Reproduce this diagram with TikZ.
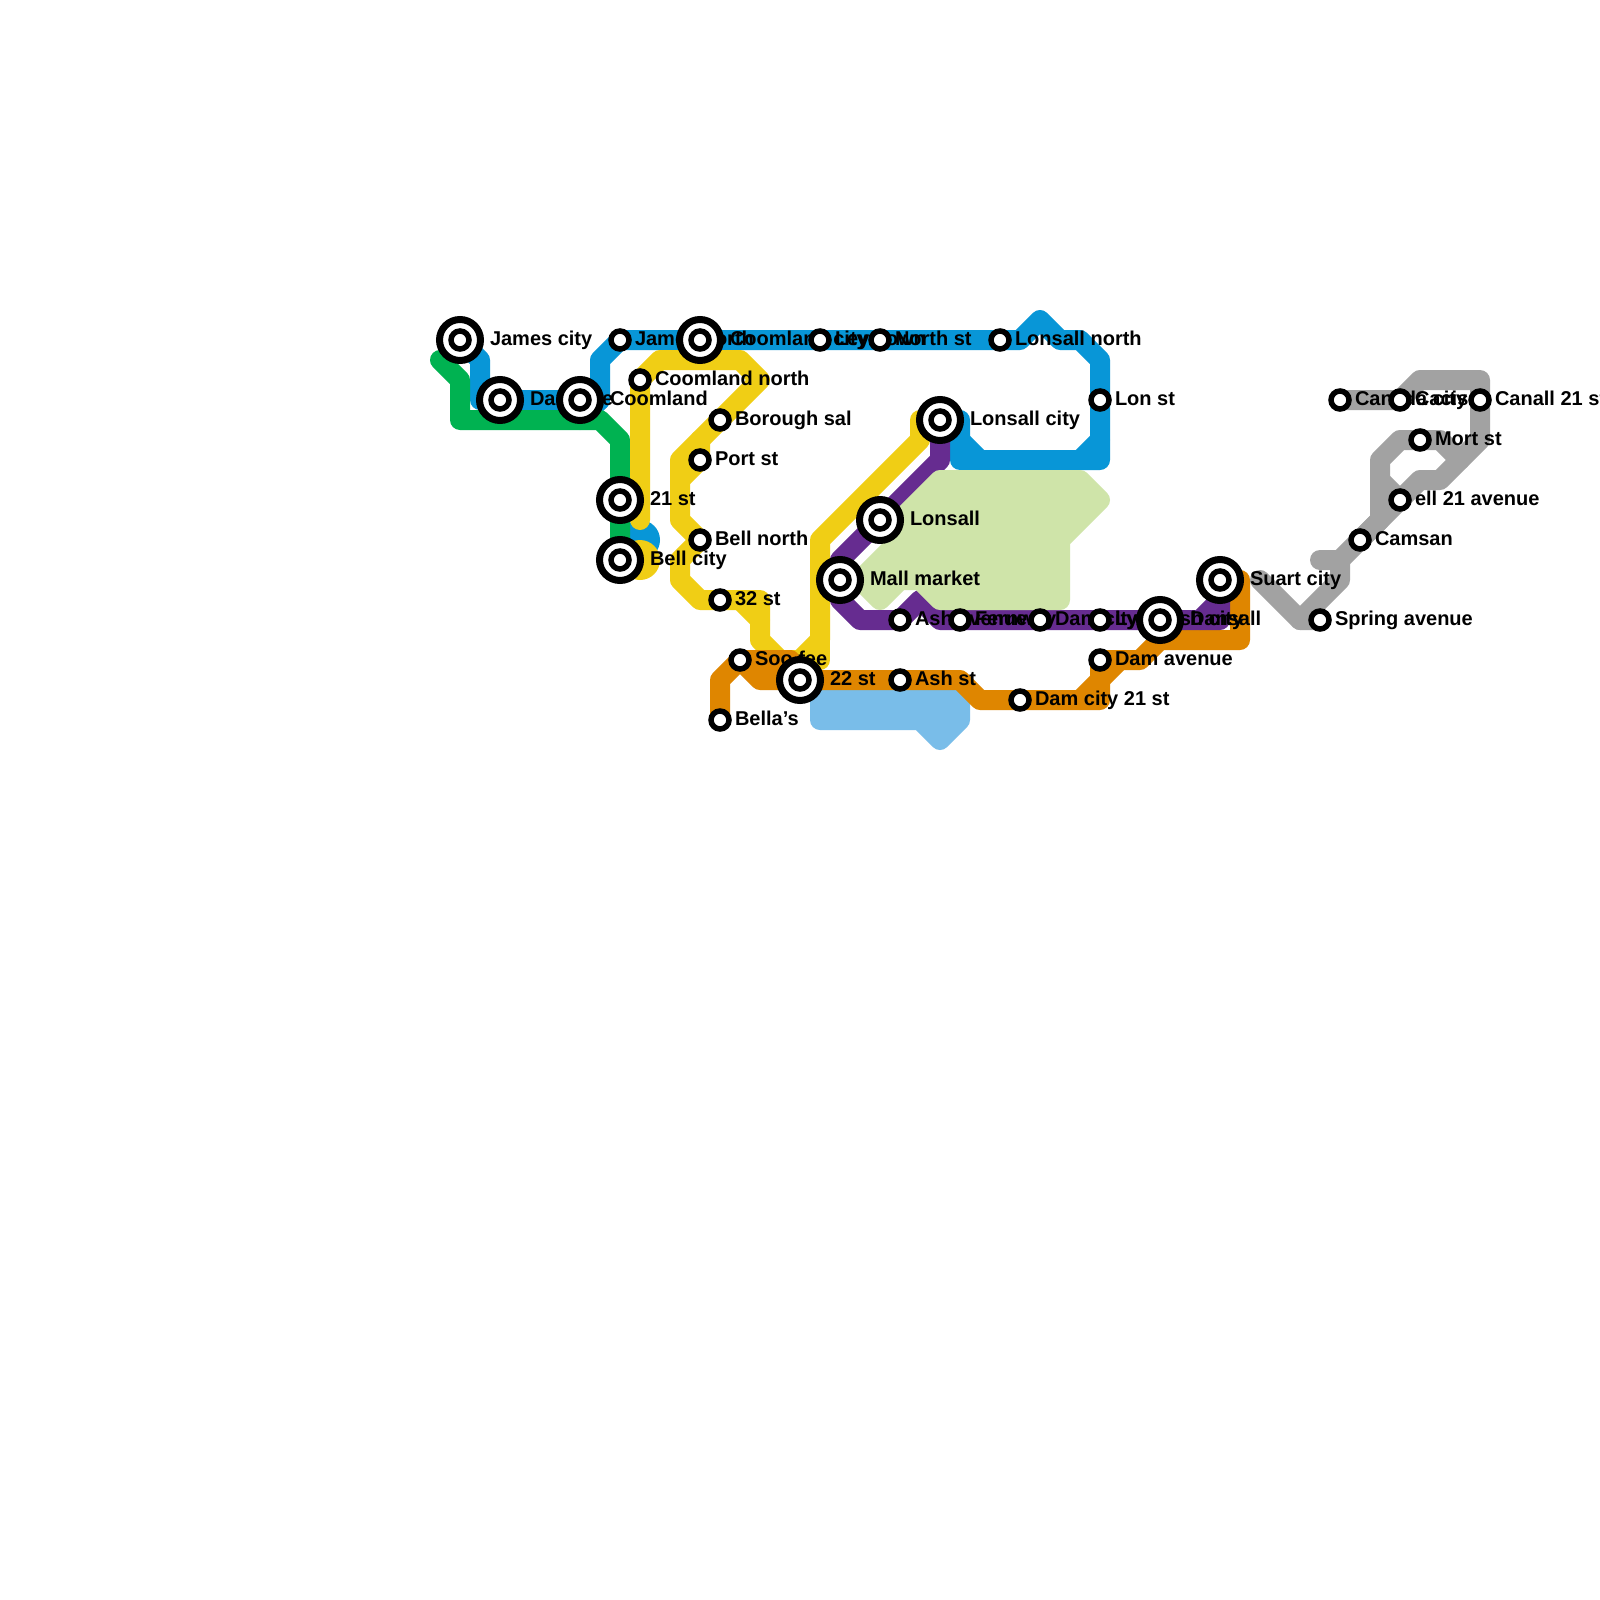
\documentclass[tikz,border=0pt]{standalone}
\usepackage{fontspec}
\setmainfont{Liberation Sans}
\definecolor{cblue}{HTML}{0896D7}
\definecolor{cgreen}{HTML}{00B251}
\definecolor{cyellow}{HTML}{F0CE15}
\definecolor{cpurple}{HTML}{662C90}
\definecolor{corange}{HTML}{DF8600}
\definecolor{cgrey}{HTML}{A2A2A2}
\definecolor{clgreen}{HTML}{CFE4A9}
\definecolor{clblue}{HTML}{79BDE9}
\tikzset{
  rail/.style={line width=20pt,line cap=round,line join=round},
  zone/.style={rail,draw=#1,fill=#1},
  lbl/.style={anchor=base west,inner sep=0pt,outer sep=0pt,font=\fontsize{20}{24}\selectfont\bfseries,text=black},
  smallstop/.style={circle,draw=black,fill=white,line width=5.5pt,minimum size=18pt,inner sep=0pt},
  bigstop/.style={circle,draw=black,fill=white,line width=7pt,minimum size=41pt,inner sep=0pt},
}
\newcommand{\slabel}[3]{\node[lbl] (#1-t) at ([shift={(15pt,-5.5pt)}]#1) {#3};}
\newcommand{\blabel}[3]{\node[lbl] (#1-t) at ([shift={(30pt,-5.5pt)}]#1) {#3};}
\newcommand{\smallst}[1]{\node[smallstop] (#1-s) at (#1) {};}
\newcommand{\bigst}[1]{\node[bigstop] (#1-o) at (#1) {};\node[smallstop] (#1-s) at (#1) {};}
\begin{document}
\begin{tikzpicture}[x=1pt,y=-1pt]
\useasboundingbox[fill=white] (0,0) rectangle (1600,1600);
% station positions
\coordinate (james) at (460,340);
\coordinate (damsite) at (500,400);
\coordinate (coomland) at (580,400);
\coordinate (jamesn) at (620,340);
\coordinate (coomcity) at (700,340);
\coordinate (ley) at (820,340);
\coordinate (north) at (880,340);
\coordinate (lonn) at (1000,340);
\coordinate (lonst) at (1100,400);
\coordinate (coomn) at (640,380);
\coordinate (borough) at (720,420);
\coordinate (port) at (700,460);
\coordinate (st21) at (620,500);
\coordinate (bellc) at (620,560);
\coordinate (belln) at (700,540);
\coordinate (st32) at (720,600);
\coordinate (soo) at (740,660);
\coordinate (bella) at (720,720);
\coordinate (st22) at (800,680);
\coordinate (ashst) at (900,680);
\coordinate (dam21) at (1020,700);
\coordinate (damav) at (1100,660);
\coordinate (mall) at (840,580);
\coordinate (lonsall) at (880,520);
\coordinate (lonc) at (940,420);
\coordinate (ashav) at (900,620);
\coordinate (fern) at (960,620);
\coordinate (damc) at (1040,620);
\coordinate (lynd) at (1100,620);
\coordinate (dars) at (1160,620);
\coordinate (suart) at (1220,580);
\coordinate (spring) at (1320,620);
\coordinate (camsan) at (1360,540);
\coordinate (ell) at (1400,500);
\coordinate (mort) at (1420,440);
\coordinate (canall) at (1480,400);
\coordinate (cacis) at (1400,400);
\coordinate (canada) at (1340,400);
% light blue zone
\path[zone=clblue] (820,700) -- (960,700) -- (960,720) -- (940,740) -- (920,720) -- (820,720) -- cycle;
% blue
\draw[rail,cblue] (james) -- (480,360) -- (480,400) -- (coomland) -- (600,400) -- (600,360) -- (jamesn) -- (coomcity) -- (ley) -- (north) -- (lonn) -- (1020,340) -- (1040,320) -- (1060,340) -- (1080,340) -- (1100,360) -- (lonst) -- (1100,460) -- (960,460) -- (960,420) -- (lonc);
\draw[rail,cblue] (1100,440) -- (1080,460);
\draw[rail,cblue] (960,440) -- (980,460);
\draw[rail,cblue] (600,400) -- (580,420);
\fill[cblue] (640,540) circle[radius=20];
% green
\draw[rail,cgreen] (440,360) -- (460,380) -- (460,420) -- (600,420) -- (620,440) -- (bellc);
% yellow
\fill[cyellow] (640,560) circle[radius=20];
\draw[rail,cyellow] (640,520) -- (coomn) -- (660,360) -- (740,360) -- (760,380) -- (680,460) -- (680,520) -- (belln) -- (680,560) -- (680,580) -- (700,600) -- (st32) -- (760,600) -- (760,640) -- (780,660) -- (800,660) -- (820,640) -- (820,540) -- (920,440) -- (920,420) -- (lonc);
\draw[rail,cyellow] (700,440) -- (port) -- (680,480);
\draw[rail,cyellow] (740,600) -- (760,620);
\draw[rail,cyellow] (800,660) -- (820,660) -- (820,640);
% orange
\draw[rail,corange] (bella) -- (720,680) -- (soo) -- (760,680) -- (ashst) -- (960,680) -- (980,700) -- (1100,700) -- (1100,680) -- (damav);
\draw[rail,corange] (soo) -- (790,660) -- (st22);
\draw[rail,corange] (1080,700) -- (1100,680) -- (1120,660) -- (damav);
\draw[rail,corange] (1120,660) -- (1140,660) -- (1160,640) -- (1240,640) -- (1240,580) -- (suart);
% purple
\draw[rail,cpurple] (lonc) -- (940,460) -- (840,560) -- (840,600) -- (860,620) -- (ashav) -- (920,600) -- (940,620) -- (1220,620) -- (suart);
\draw[rail,cpurple] (1200,620) -- (1220,600);
% light green zone, over the purple line
\path[zone=clgreen] (940,480) -- (900,520) -- (900,540) -- (860,580) -- (880,600) -- (900,580) -- (920,580) -- (940,600) -- (1060,600) -- (1060,540) -- (1100,500) -- (1080,480) -- cycle;
% grey
\draw[rail,cgrey] (1260,580) -- (1300,620) -- (spring);
\draw[rail,cgrey] (1300,620) -- (1340,580) -- (1340,560) -- (1320,560);
\draw[rail,cgrey] (1340,560) -- (camsan) -- (ell) -- (1420,480) -- (1440,480) -- (1480,440) -- (canall) -- (1480,380) -- (1420,380) -- (cacis) -- (canada);
\draw[rail,cgrey] (camsan) -- (1380,520) -- (1380,460) -- (1400,440) -- (mort) -- (1440,440) -- (1460,460);
\draw[rail,cgrey] (1380,480) -- (ell);
% labels
\blabel{james}{}{James city}
\blabel{damsite}{}{Dam site}
\blabel{coomland}{}{Coomland}
\slabel{jamesn}{}{James north}
\blabel{coomcity}{}{Coomland city}
\slabel{ley}{}{Ley Town}
\slabel{north}{}{North st}
\slabel{lonn}{}{Lonsall north}
\slabel{lonst}{}{Lon st}
\slabel{coomn}{}{Coomland north}
\slabel{borough}{}{Borough sal}
\slabel{port}{}{Port st}
\blabel{st21}{}{21 st}
\blabel{bellc}{}{Bell city}
\slabel{belln}{}{Bell north}
\slabel{st32}{}{32 st}
\slabel{soo}{}{Soo fee}
\slabel{bella}{}{Bella’s}
\blabel{st22}{}{22 st}
\slabel{ashst}{}{Ash st}
\slabel{dam21}{}{Dam city 21 st}
\slabel{damav}{}{Dam avenue}
\blabel{mall}{}{Mall market}
\blabel{lonsall}{}{Lonsall}
\blabel{lonc}{}{Lonsall city}
\slabel{ashav}{}{Ash avenue}
\slabel{fern}{}{Fernway}
\slabel{damc}{}{Dam city}
\slabel{lynd}{}{Lymonsh city}
\blabel{dars}{}{Dansall}
\blabel{suart}{}{Suart city}
\slabel{spring}{}{Spring avenue}
\slabel{camsan}{}{Camsan}
\slabel{ell}{}{ell 21 avenue}
\slabel{mort}{}{Mort st}
\slabel{canall}{}{Canall 21 st}
\slabel{cacis}{}{Cacis}
\slabel{canada}{}{Canada city}
% stations
\bigst{james}\bigst{damsite}\bigst{coomland}\smallst{jamesn}\bigst{coomcity}\smallst{ley}\smallst{north}\smallst{lonn}\smallst{lonst}
\smallst{coomn}\smallst{borough}\smallst{port}\bigst{st21}\bigst{bellc}\smallst{belln}\smallst{st32}\smallst{soo}\smallst{bella}
\bigst{st22}\smallst{ashst}\smallst{dam21}\smallst{damav}\bigst{mall}\bigst{lonsall}\bigst{lonc}\smallst{ashav}\smallst{fern}\smallst{damc}\smallst{lynd}\bigst{dars}\bigst{suart}
\smallst{spring}\smallst{camsan}\smallst{ell}\smallst{mort}\smallst{canall}\smallst{cacis}\smallst{canada}
\end{tikzpicture}
\end{document}
